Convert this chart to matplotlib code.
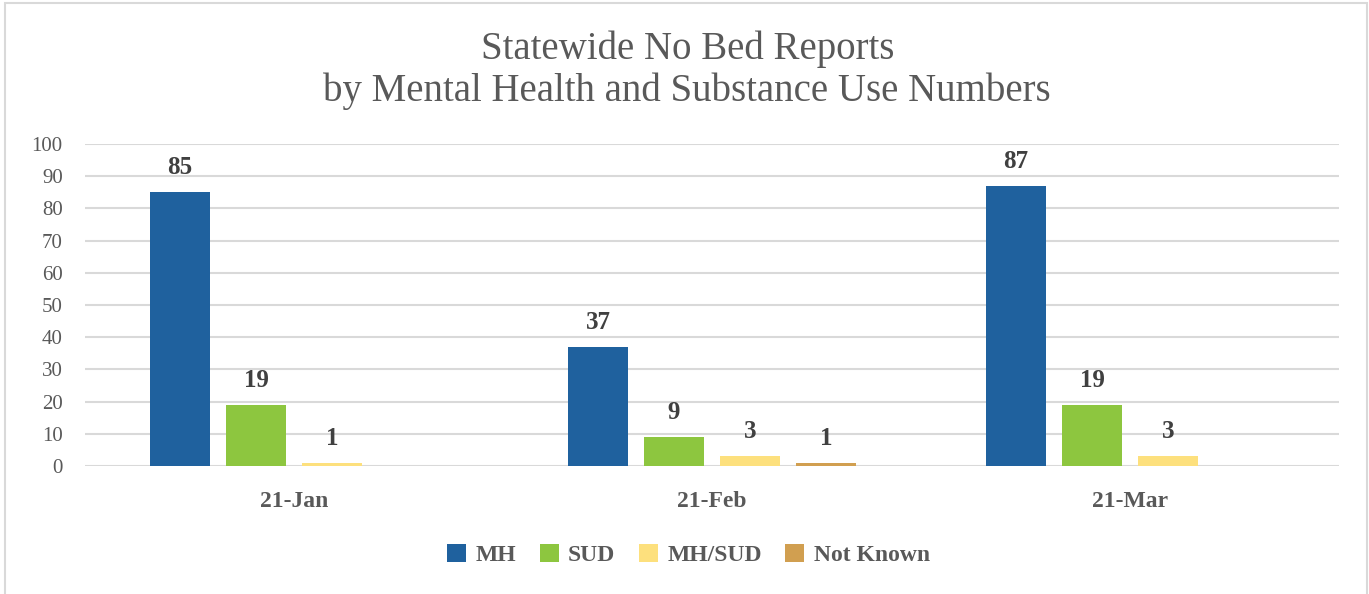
import numpy as np
import matplotlib.pyplot as plt
from matplotlib.patches import Rectangle

plt.rcParams['font.family'] = ['Liberation Serif', 'DejaVu Serif']

months = ["21-Jan", "21-Feb", "21-Mar"]
series = ["MH", "SUD", "MH/SUD", "Not Known"]
mh = [85, 37, 87]
sud = [19, 9, 19]
mh_sud = [1, 3, 3]
not_known = [0, 1, 0]
colors = ["#1F619E", "#8DC63F", "#FDE07D", "#D19F50"]

fig = plt.figure(figsize=(13.69, 5.94), dpi=100)
ax = fig.add_axes([0.0621, 0.2155, 0.9160, 0.5421])

x = np.arange(len(months))
width = 0.1435
step = 0.1818
for i, (name, vals) in enumerate(zip(series, [mh, sud, mh_sud, not_known])):
    pos = x + (i - 1.5) * step
    ax.bar(pos, vals, width, color=colors[i], label=name, zorder=3)
    for p, v in zip(pos, vals):
        if v > 0:
            ax.text(p, v + 4, str(v), ha="center", va="bottom", fontsize=18,
                    fontweight="bold", color="#404040")

ax.set_xlim(-0.5, 2.5)
ax.set_ylim(0, 100)
ax.set_yticks(range(0, 101, 10))
ax.yaxis.grid(True, color="#D9D9D9", linewidth=1.5, zorder=0)
ax.set_xticks(x)
ax.set_xticklabels(months, fontsize=17, fontweight="bold", color="#595959")
ax.tick_params(axis="y", labelsize=15, labelcolor="#595959", length=0, pad=16)
ax.tick_params(axis="x", length=0, pad=18)
for s in ax.spines.values():
    s.set_visible(False)

fig.text(0.502, 0.882, "Statewide No Bed Reports\nby Mental Health and Substance Use Numbers",
         ha="center", va="center", fontsize=28, color="#595959", linespacing=1.15)

fig.legend(loc="center", bbox_to_anchor=(0.503, 1 - 555 / 594), ncol=4, frameon=False,
           prop={"size": 17, "weight": "bold"}, labelcolor="#595959",
           handlelength=0.8, handleheight=0.8, columnspacing=1.0, handletextpad=0.4)

fig.patches.append(Rectangle((0.0037, -0.01), 0.995, 1.005, transform=fig.transFigure,
                             fill=False, edgecolor="#D9D9D9", linewidth=1.5))

fig.savefig("out.png", dpi=100)
